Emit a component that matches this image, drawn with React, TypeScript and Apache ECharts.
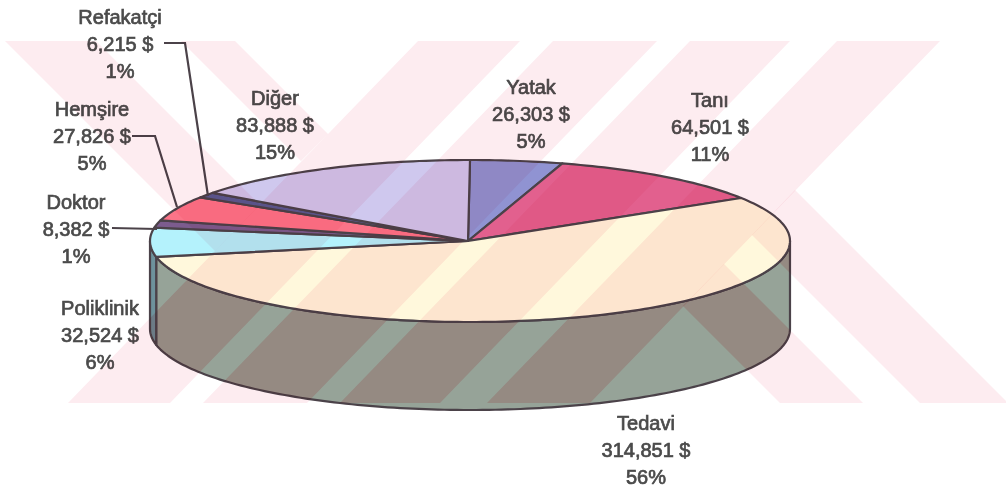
import React, { useEffect, useRef } from "react";
import * as echarts from "echarts";

// Hospital cost breakdown
const categories = ["Yatak", "Tanı", "Tedavi", "Poliklinik", "Doktor", "Hemşire", "Refakatçi", "Diğer"];
const costs = [26303, 64501, 314851, 32524, 8382, 27826, 6215, 83888];

const topColors = ["#9093d2", "#e2608e", "#fff8dc", "#b4f2fc", "#7c5c8e", "#fb7488", "#5b5a92", "#cfc8ee"];
const wallColors: Record<string, string> = { Tedavi: "#96a398", Poliklinik: "#6d929c" };

// Disc geometry in pixels
const CX = 470;
const CY = 241;
const RX = 320;
const RY = 81;
const DEPTH = 88;
const EDGE = "#4b4249";

// Label block centres, by category
const labelCentres: Record<string, [number, number]> = {
  Yatak: [531, 114],
  Tanı: [710, 127],
  Tedavi: [646, 450],
  Poliklinik: [100, 335],
  Doktor: [76, 229],
  Hemşire: [92, 136],
  Refakatçi: [120, 44],
  Diğer: [275, 125],
};

// Leader lines from label to rim
const leaders: number[][][] = [
  [[164, 43], [185, 43], [208, 196]],
  [[132, 136], [155, 136], [177, 207]],
  [[112, 228], [157, 229]],
];

// Diagonal stripes printed across the page
const stripes: number[][][] = [
  [[418, 41], [520, 41], [170, 403], [68, 403]],
  [[553, 41], [657, 41], [307, 403], [203, 403]],
  [[690, 41], [790, 41], [440, 403], [340, 403]],
  [[837, 41], [940, 41], [590, 403], [487, 403]],
  [[5, 41], [96, 41], [260, 205], [215, 251]],
  [[181, 41], [235, 41], [328, 134], [301, 161]],
  [[795, 190], [1006, 401], [1006, 403], [920, 403], [752, 235]],
  [[724, 264], [863, 403], [780, 403], [683, 306]],
];
const STRIPE_TINT = "#fdecf0";
const WALL_STRIPE_TINT = "#ffe9e8";

const total = costs.reduce((a, b) => a + b, 0);
const startAngles = costs.map((_, i) => (costs.slice(0, i).reduce((a, b) => a + b, 0) / total) * Math.PI * 2);
const endAngle = (i: number) => startAngles[i] + (costs[i] / total) * Math.PI * 2;

const rim = (a: number, drop = 0): number[] => [CX + RX * Math.sin(a), CY - RY * Math.cos(a) + drop];

const arc = (from: number, to: number, drop = 0): number[][] => {
  const steps = Math.max(2, Math.ceil(Math.abs(to - from) / 0.02));
  const pts: number[][] = [];
  for (let k = 0; k <= steps; k++) pts.push(rim(from + ((to - from) * k) / steps, drop));
  return pts;
};

// Sutherland-Hodgman: cut a polygon down to a convex, clockwise window
const clipToConvex = (subject: number[][], win: number[][]): number[][] => {
  let out = subject;
  for (let e = 0; e < win.length && out.length; e++) {
    const [ax, ay] = win[e];
    const [bx, by] = win[(e + 1) % win.length];
    const side = (p: number[]) => (bx - ax) * (p[1] - ay) - (by - ay) * (p[0] - ax);
    const next: number[][] = [];
    for (let k = 0; k < out.length; k++) {
      const cur = out[k];
      const prev = out[(k + out.length - 1) % out.length];
      const sc = side(cur);
      const sp = side(prev);
      if (sc >= 0 !== sp >= 0) {
        const t = sp / (sp - sc);
        next.push([prev[0] + (cur[0] - prev[0]) * t, prev[1] + (cur[1] - prev[1]) * t]);
      }
      if (sc >= 0) next.push(cur);
    }
    out = next;
  }
  return out;
};

const wallPoints = (i: number): number[][] | null => {
  const a0 = Math.max(startAngles[i], Math.PI / 2);
  const a1 = Math.min(endAngle(i), (Math.PI * 3) / 2);
  if (a1 <= a0) return null;
  return [...arc(a0, a1), ...arc(a1, a0, DEPTH)];
};

const money = (v: number) => `${v.toLocaleString("en-US")} $`;

export default function App() {
  const ref = useRef<HTMLDivElement>(null);

  useEffect(() => {
    const chart = echarts.init(ref.current!, null, { renderer: "svg" });

    // The stripes tint whatever lies under them, so they are multiplied onto the drawing
    const multiplyStripes = () => {
      ref.current?.querySelectorAll("path").forEach((el) => {
        const fill = (el.getAttribute("fill") || "").toLowerCase();
        if (fill === STRIPE_TINT || fill === WALL_STRIPE_TINT) {
          (el as unknown as HTMLElement).style.mixBlendMode = "multiply";
        }
      });
    };
    chart.on("finished", multiplyStripes);

    chart.setOption({
      animation: false,
      backgroundColor: "#ffffff",
      series: [
        {
          // side wall, front half of the disc only
          type: "custom",
          coordinateSystem: "none",
          z: 1,
          data: costs,
          renderItem: (p: any) => {
            const i = p.dataIndex;
            const points = wallPoints(i);
            if (!points) return { type: "group", children: [] };
            // the stripes print heavier on the dark wall
            const tinted = stripes
              .map((s) => clipToConvex(points, s))
              .filter((q) => q.length > 2)
              .map((q) => ({
                type: "polygon",
                shape: { points: q },
                style: { fill: WALL_STRIPE_TINT },
              }));
            return {
              type: "group",
              children: [
                {
                  type: "polygon",
                  shape: { points },
                  style: { fill: wallColors[categories[i]] ?? "#96a398", stroke: EDGE, lineWidth: 2.2, lineJoin: "round" },
                },
                ...tinted,
              ],
            };
          },
        },
        {
          // top face
          type: "custom",
          coordinateSystem: "none",
          z: 2,
          data: costs,
          renderItem: (p: any) => {
            const i = p.dataIndex;
            const points = [[CX - 2, CY], ...arc(startAngles[i], endAngle(i))];
            return {
              type: "polygon",
              shape: { points },
              style: { fill: topColors[i], stroke: EDGE, lineWidth: 2.2, lineJoin: "round" },
            };
          },
        },
        {
          // name, amount and share beside each slice
          type: "custom",
          coordinateSystem: "none",
          z: 5,
          data: costs,
          renderItem: (p: any, api: any) => {
            const i = p.dataIndex;
            const v = api.value(0);
            const [x, y] = labelCentres[categories[i]];
            return {
              type: "text",
              x,
              y,
              style: {
                text: `${categories[i]}\n${money(v)}\n${Math.round((v / total) * 100)}%`,
                font: '20px "Liberation Sans", Arial, sans-serif',
                lineHeight: 27,
                align: "center",
                verticalAlign: "middle",
                fill: "#4a4a4a",
                stroke: "#4a4a4a",
                lineWidth: 0.7,
              },
            };
          },
        },
      ],
      graphic: {
        elements: [
          ...leaders.map((points) => ({
            type: "polyline",
            z: 6,
            shape: { points },
            style: { fill: "none", stroke: EDGE, lineWidth: 2.2 },
          })),
          ...stripes.map((points) => ({
            type: "polygon",
            z: 10,
            silent: true,
            shape: { points },
            style: { fill: STRIPE_TINT },
          })),
        ],
      },
    });
    multiplyStripes();
    return () => chart.dispose();
  }, []);

  return <div ref={ref} style={{ position: "absolute", left: 0, top: 0, width: 1006, height: 491 }} />;
}
